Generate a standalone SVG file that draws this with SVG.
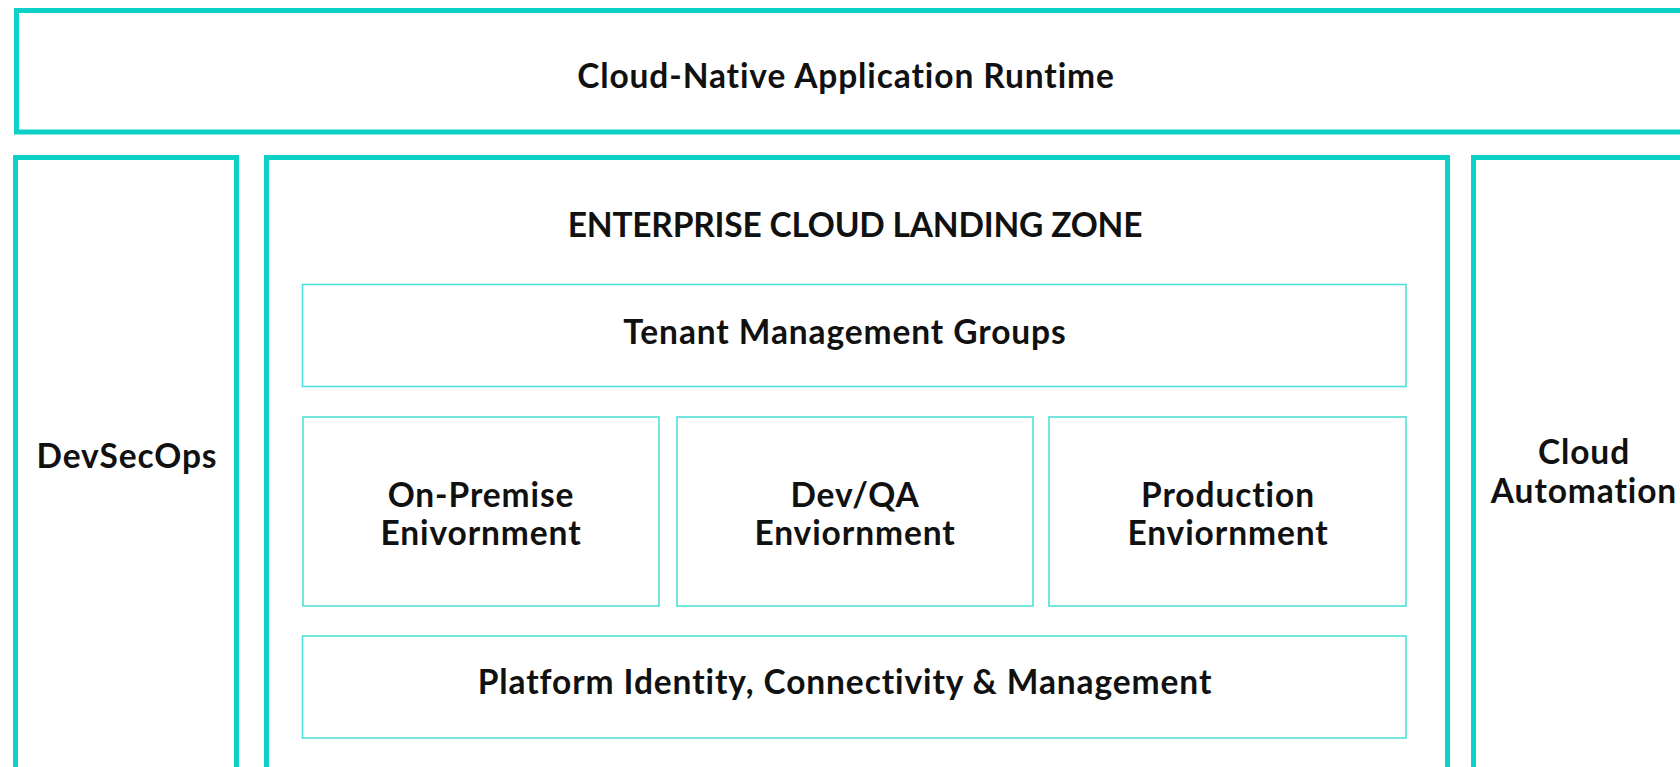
<svg xmlns="http://www.w3.org/2000/svg" width="1680" height="767" viewBox="0 0 1680 767">
<style>
.thick{fill:none;stroke:#0dd1c6;stroke-width:5}
.thin{fill:#fff;stroke:#4fe0d8;stroke-width:1.6}
.t{font-family:Lato,"Liberation Sans",sans-serif;font-weight:700;fill:#111;text-anchor:middle;font-size:33.5px;letter-spacing:0.9px}
.caps{letter-spacing:-0.2px}
</style>
<rect width="1680" height="767" fill="#fff"/>
<g id="runtime">
<rect class="thick" x="16.5" y="10.5" width="1680" height="121.5"/>
<text class="t" x="846" y="88">Cloud-Native Application Runtime</text>
</g>
<g id="devsecops">
<rect class="thick" x="15.5" y="157.5" width="221" height="650"/>
<text class="t" x="127" y="468">DevSecOps</text>
</g>
<g id="landing-zone">
<rect class="thick" x="266.5" y="157.5" width="1181" height="650"/>
<text class="t caps" x="855" y="237">ENTERPRISE CLOUD LANDING ZONE</text>
</g>
<g id="cloud-automation">
<rect class="thick" x="1473.5" y="157.5" width="260" height="650"/>
<text class="t" x="1584" y="464">Cloud</text>
<text class="t" x="1584" y="503">Automation</text>
</g>
<g id="tenant">
<rect class="thin" x="302.5" y="284.5" width="1103.5" height="102"/>
<text class="t" x="845" y="344">Tenant Management Groups</text>
</g>
<g id="onprem">
<rect class="thin" x="303" y="417" width="356" height="189"/>
<text class="t" x="481" y="507">On-Premise</text>
<text class="t" x="481" y="545">Enivornment</text>
</g>
<g id="devqa">
<rect class="thin" x="677" y="417" width="356" height="189"/>
<text class="t" x="855" y="507">Dev/QA</text>
<text class="t" x="855" y="545">Enviornment</text>
</g>
<g id="production">
<rect class="thin" x="1049" y="417" width="357" height="189"/>
<text class="t" x="1228" y="507">Production</text>
<text class="t" x="1228" y="545">Enviornment</text>
</g>
<g id="platform">
<rect class="thin" x="302.5" y="636" width="1103.5" height="102"/>
<text class="t" x="845" y="694">Platform Identity, Connectivity &amp; Management</text>
</g>
<g id="connectors"/>
</svg>
